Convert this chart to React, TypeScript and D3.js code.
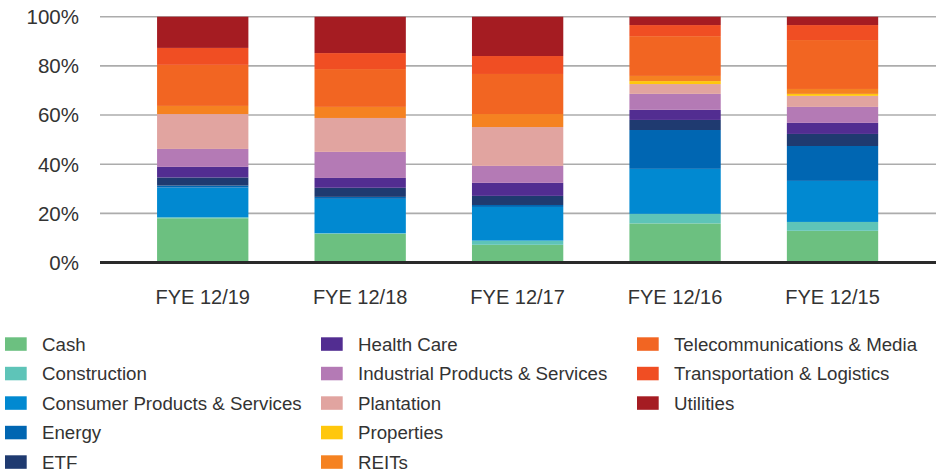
import React from "react";
import * as d3 from "d3";

const categories = ["FYE 12/19", "FYE 12/18", "FYE 12/17", "FYE 12/16", "FYE 12/15"];

const seriesNames = [
  "Cash",
  "Construction",
  "Consumer Products & Services",
  "Energy",
  "ETF",
  "Health Care",
  "Industrial Products & Services",
  "Plantation",
  "Properties",
  "REITs",
  "Telecommunications & Media",
  "Transportation & Logistics",
  "Utilities",
];

const seriesColors = [
  "#6cc080",
  "#5ec4b8",
  "#0189d1",
  "#0066b2",
  "#1f3a70",
  "#522d91",
  "#b47ab5",
  "#e1a4a0",
  "#ffc70c",
  "#f58221",
  "#f26522",
  "#f04e23",
  "#a51c22",
];

// values per series, in category order
const cash = [18.0, 11.7, 7.2, 15.9, 12.9];
const construction = [0.4, 0.2, 1.7, 3.9, 3.6];
const consumer = [12.1, 14.0, 13.7, 18.3, 16.7];
const energy = [0.8, 0.8, 0.8, 15.8, 14.2];
const etf = [3.3, 3.7, 3.7, 4.1, 4.9];
const healthCare = [4.3, 4.0, 5.3, 4.1, 4.5];
const industrial = [7.3, 10.6, 6.9, 6.5, 6.5];
const plantation = [14.2, 13.8, 15.8, 4.0, 4.5];
const properties = [0, 0, 0, 1.2, 0.8];
const reits = [3.3, 4.5, 5.3, 2.1, 2.0];
const telecom = [16.7, 15.4, 16.3, 16.2, 19.9];
const transport = [6.9, 6.5, 7.3, 4.5, 6.1];
const utilities = [12.7, 14.8, 16.0, 3.4, 3.4];

const yTicks = [0, 20, 40, 60, 80, 100];

const seriesValues = [
  cash, construction, consumer, energy, etf, healthCare, industrial,
  plantation, properties, reits, telecom, transport, utilities,
];

export default function App() {
  const width = 942;
  const height = 470;

  const rows = categories.map((c, i) => {
    const r: any = { category: c };
    seriesNames.forEach((s, j) => (r[s] = seriesValues[j][i]));
    return r;
  });

  const stacked = d3.stack().keys(seriesNames)(rows as any);

  const x = d3
    .scaleBand()
    .domain(categories)
    .range([124, 911.25])
    .paddingInner(0.42)
    .paddingOuter(0.21);

  const y = d3.scaleLinear().domain([0, 100]).range([262.5, 16.7]);

  const textColor = "#333333";
  const font = "'Liberation Sans', Arial, Helvetica, sans-serif";

  const legendCols = [5, 321, 637];
  const legendTop = 337.3;
  const legendStep = 29.5;

  return (
    <svg
      width={width}
      height={height}
      style={{ position: "absolute", left: 0, top: 0, background: "#fff" }}
      fontFamily={font}
    >
      {/* gridlines */}
      {yTicks.filter((t) => t > 0).map((t) => (
        <line
          key={t}
          x1={100}
          x2={936}
          y1={y(t)}
          y2={y(t)}
          stroke="#acacac"
          strokeWidth={1.6}
        />
      ))}
      {/* y labels */}
      {yTicks.map((t) => (
        <text
          key={"yl" + t}
          x={79}
          y={y(t)}
          dy="0.36em"
          textAnchor="end"
          fontSize={20.5}
          fill={textColor}
        >
          {t}%
        </text>
      ))}
      {/* bars */}
      {stacked.map((layer, j) => (
        <g key={seriesNames[j]} fill={seriesColors[j]}>
          {layer.map((d: any, i: number) => (
            <rect
              key={i}
              x={x(categories[i])}
              width={x.bandwidth()}
              y={y(d[1])}
              height={Math.max(0, y(d[0]) - y(d[1]))}
            />
          ))}
        </g>
      ))}
      {/* baseline */}
      <line x1={100} x2={936} y1={y(0)} y2={y(0)} stroke="#2a2a2a" strokeWidth={2.8} />
      {/* x labels */}
      {categories.map((c) => (
        <text
          key={c}
          x={(x(c) as number) + x.bandwidth() / 2}
          y={296.5}
          dy="0.36em"
          textAnchor="middle"
          fontSize={20}
          fill={textColor}
        >
          {c}
        </text>
      ))}
      {/* legend */}
      {seriesNames.map((s, j) => {
        const col = Math.floor(j / 5);
        const row = j % 5;
        const lx = legendCols[col];
        const ly = legendTop + row * legendStep;
        return (
          <g key={"lg" + s}>
            <rect x={lx} y={ly} width={21.7} height={13.5} fill={seriesColors[j]} />
            <text
              x={lx + 37}
              y={ly + 6.5}
              dy="0.36em"
              fontSize={18.7}
              fill={textColor}
            >
              {s}
            </text>
          </g>
        );
      })}
    </svg>
  );
}
